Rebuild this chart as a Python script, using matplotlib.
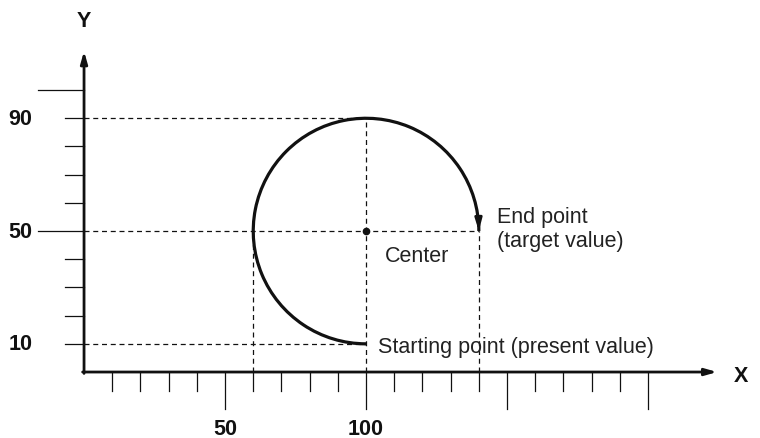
import matplotlib.pyplot as plt
from matplotlib.patches import Arc

plt.rcParams['font.family'] = ['Liberation Sans', 'DejaVu Sans']

# circle data
center = (100, 50)
start_pt = (100, 10)
end_pt = (140, 50)
radius = 40

# ticks
x_ticks = [10, 20, 30, 40, 50, 60, 70, 80, 90, 100, 110, 120, 130, 140, 150, 160, 170, 180, 190, 200]
x_long = [50, 100, 150, 200]
x_labels = {50: "50", 100: "100"}
y_ticks = [10, 20, 30, 40, 50, 60, 70, 80, 90, 100]
y_long = [50, 100]
y_labels = {10: "10", 50: "50", 90: "90"}

# dashed guide lines
h_guides = [(10, 100), (50, 140), (90, 100)]   # (y, x end)
v_guides = [(60, 50), (100, 90), (140, 50)]    # (x, y end)

fig = plt.figure(figsize=(7.6, 4.39), dpi=100)
ax = fig.add_axes([0, 0, 1, 1])
ax.set_xlim(-29.8, 239.7)
ax.set_ylim(-23.4, 132.3)
ax.axis('off')

ink = '#111111'
txt = '#222222'
fs = 15.5

# axes with arrows
ax.annotate('', xy=(224.5, 0), xytext=(-0.5, 0),
            arrowprops=dict(arrowstyle='-|>,head_length=0.7,head_width=0.2', lw=2, color=ink, shrinkA=0, shrinkB=0))
ax.annotate('', xy=(0, 113.8), xytext=(0, -0.5),
            arrowprops=dict(arrowstyle='-|>,head_length=0.7,head_width=0.2', lw=2, color=ink, shrinkA=0, shrinkB=0))

# ticks
for t in x_ticks:
    ln = 13.2 if t in x_long else 6.7
    ax.plot([t, t], [0, -ln], color=ink, lw=0.9)
for t in y_ticks:
    ln = 16.5 if t in y_long else 6.8
    ax.plot([0, -ln], [t, t], color=ink, lw=0.9)

for t, s in x_labels.items():
    ax.text(t, -20, s, ha='center', va='center', fontsize=fs, color=ink, fontweight='bold')
for t, s in y_labels.items():
    ax.text(-18.4, t, s, ha='right', va='center', fontsize=fs, color=ink, fontweight='bold')

ax.text(0, 124.5, 'Y', ha='center', va='center', fontsize=fs, color=ink, fontweight='bold')
ax.text(233, -1.4, 'X', ha='center', va='center', fontsize=fs, color=ink, fontweight='bold')

# dashed guides
for y, xe in h_guides:
    ax.plot([0, xe], [y, y], color=ink, lw=0.9, ls=(0, (4, 3)))
for x, ye in v_guides:
    ax.plot([x, x], [0, ye], color=ink, lw=0.9, ls=(0, (4, 3)))

# arc from start point clockwise to end point
ax.add_patch(Arc(center, 2 * radius, 2 * radius, theta1=0, theta2=270, lw=2.3, color=ink))
ax.annotate('', xy=end_pt, xytext=(end_pt[0] - 0.1, end_pt[1] + 4),
            arrowprops=dict(arrowstyle='-|>,head_length=0.7,head_width=0.2', lw=2, color=ink, shrinkA=0, shrinkB=0))
ax.plot(*center, 'o', color=ink, ms=4.5)

ax.text(146.5, 55, 'End point', ha='left', va='center', fontsize=fs, color=txt)
ax.text(146.5, 46.5, '(target value)', ha='left', va='center', fontsize=fs, color=txt)
ax.text(106.7, 41.5, 'Center', ha='left', va='center', fontsize=fs, color=txt)
ax.text(104.3, 8.9, 'Starting point (present value)', ha='left', va='center', fontsize=fs, color=txt)

fig.savefig('out.png', dpi=100)
